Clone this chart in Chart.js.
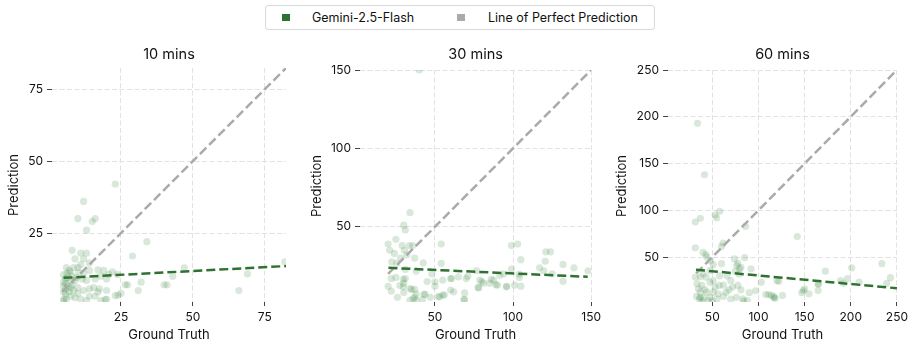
<!DOCTYPE html>
<html>
<head>
<meta charset="utf-8">
<script src="https://cdn.jsdelivr.net/npm/chart.js@4.4.1/dist/chart.umd.min.js"></script>
<style>
  body { margin: 0; background: #fff; width: 912px; height: 343px; position: relative; overflow: hidden; font-family: Inter, sans-serif; }
  canvas { position: absolute; top: 0; }
  #legend { position: absolute; left: 265px; top: 5px; width: 390px; height: 25px; box-sizing: border-box;
            border: 1px solid #d9d9d9; border-radius: 3px; font-size: 12.5px; color: #111; }
  #legend .sw { position: absolute; top: 7.5px; width: 7.5px; height: 7.5px; }
  #legend .lb { position: absolute; top: 0; line-height: 23px; white-space: nowrap; }
</style>
</head>
<body>
<div id="legend">
  <span class="sw" style="left:16px; background:#2e722f"></span>
  <span class="lb" style="left:46px">Gemini-2.5-Flash</span>
  <span class="sw" style="left:191px; background:#aaaaaa"></span>
  <span class="lb" style="left:222px">Line of Perfect Prediction</span>
</div>
<canvas id="c10" width="300" height="343" style="left:0px"></canvas>
<canvas id="c30" width="305" height="343" style="left:300px"></canvas>
<canvas id="c60" width="307" height="343" style="left:605px"></canvas>
<script>
// values
const titles = ['10 mins', '30 mins', '60 mins'];

const truth10 = [23,12,10,16,15,13,34,29,8,11,13,9,12,14,6,8.5,10,7,11,7.4,10.3,14,17,19,20.7,23.8,22,26.5,27.3,32,31,40,41,47,43,69,66,82,23,24,20,17,5.7,5.7,5.7,5.7,5.2,5,5,5,5,5,6.5,6.5,7.5,7.5,7.5,8,8,8.5,9,9,9.5,10,10,11,11.5,12,12,13,13,14,14,15.5,16,17.5,18,18,19.5,20,20,25,6,6.2,7,16];
const pred10  = [42,36,30,30,29,26,22,17,19,18,18,16,16,14.6,13,13,13,12,14,11.4,11.4,12,12.2,12,10.6,10.6,11.5,7,7,7.9,5,7,7,12.9,10,10.8,5,15,3.2,3.4,2,4.5,9.1,7.4,5.6,3.9,2.1,1.5,4.5,6.5,8,10.5,6.5,9.5,8.5,6,3,10,7,5,8.5,2.5,9.5,6,4,2,9,5,11,8.5,1.5,5.6,3,6,9,5.6,10,1.5,1.8,9,5,4,2,11,4.5,3];

const truth30 = [40,34,30,31,25,20,54,29,33.6,35.7,21,24,30.4,37,42.5,22.3,25.5,32,28,31,38,22,25,31,55,60,65,70,76.6,80,20,22,27.5,30,35,37,38,43,34,38,42,53,55,56,60,62,69,69,78,47,99,103,105,121,124,120.6,117,119.7,132,139,148,125,132,99,104,104,101,105,96,89,85,81,91.5,94,87.6,54,60.6,77.6,68.5,52,45,50,48,26,30,50,71,78.7,86,90,95.7,29.7,34,43.6,29.7,36,37];
const pred30  = [150,59,51,48,42,39,39,38,38,38,35,33,35,30,27,27.6,26.6,32,30,22.8,21.7,17,17.7,17,16,17,18,17,22,15,12,9,12.5,14,10,10,7,6.8,3,3,3.5,5.3,6.4,6.4,9.6,8.5,7.8,3.6,11,5,38,39,29,34,34,28,23.8,21.9,26,23.8,21.9,20,15.3,23,19.8,17.7,12.8,12.1,12,13,14,14,19,20,16,26.6,17,11.3,3.6,5.5,15,12,20,5,8,14.9,18.5,16,16.4,12.8,11.7,11.7,10.6,7,16.4,4,5];

const truth60 = [34,41.5,31.6,37,53,54.7,58,31.6,61.7,60,86,142,40,43,44,48,51,74,77.7,81,85,92,60,76.6,79.5,47.5,40,43.3,31.6,37,33.4,38.7,47.5,51,57.5,37,44,51,56.4,37,40.4,47.5,45.7,65,72,77.7,81,76,83,88,75,79,108,116.7,120,103,111,117,126,114,118,122,148.6,154.7,150,147,164.6,164.6,165,172.5,201,189,196.5,192,209,233.7,243,239,35,42,55,62,68,70,66,58,90,97,33,36,39,50,53,62,70,84];
const pred60  = [193,138,87.5,91.5,95,92,99,60,65,61.5,83,72,55,52.7,50,46,42,48,43.6,39,49.5,37.5,43,41,37.5,35.8,32.2,28.6,28.6,29,21.5,19.7,23,25,19.7,12.5,12.5,12.5,10.8,7,6.5,7,3.6,12.5,18,19.7,15,7,5.5,3.6,35,32,10,8,25,23,10,6.5,9,9,6,24,14.3,10.8,16,12,21.5,14.3,21,35,38.5,25,27,22,23.3,43,28,22,16,15,5,8,15,25,30,30,12,14,8,5,3,3,18,20,5,3];

// axis limits and ticks
const limits10 = [1, 82.4], ticks10 = [25, 50, 75];
const limits30 = [2, 150],  ticks30 = [50, 100, 150];
const limits60 = [2, 250],  ticks60 = [50, 100, 150, 200, 250];

// perfect-prediction segment (from .. to) and fitted trend (x pair, y pair)
const perfect10 = [4.5, 82.4],  fitX10 = [5, 82.4],   fitY10 = [9.4, 13.5];
const perfect30 = [20, 150],    fitX30 = [20.2, 147.8], fitY30 = [23.8, 18.1];
const perfect60 = [32.5, 250],  fitX60 = [32.3, 250],   fitY60 = [36.5, 16.7];

const green = '#2e722f';
const font = 'Inter';

function drawPanel(id, title, truth, pred, lim, ticks, perfect, fitX, fitY, yWidth, yTitlePad, titleGap, padRight) {
    const points = truth.map((t, i) => ({x: t, y: pred[i]}));
    const setTicks = s => { s.ticks = ticks.map(v => ({value: v})); };
    new Chart(document.getElementById(id), {
        type: 'scatter',
        data: {
            datasets: [
                { data: points, backgroundColor: 'rgba(46,125,50,0.18)', borderWidth: 0, pointRadius: 3.6, order: 3 },
                { type: 'line', data: perfect.map(v => ({x: v, y: v})), borderColor: '#aaaaaa', borderWidth: 2.5,
                  borderDash: [9, 4], pointRadius: 0, fill: false, order: 2 },
                { type: 'line', data: fitX.map((v, i) => ({x: v, y: fitY[i]})), borderColor: green, borderWidth: 2.5,
                  borderDash: [9, 4], pointRadius: 0, fill: false, order: 1 }
            ]
        },
        options: {
            responsive: false,
            animation: false,
            layout: { padding: { left: 0, right: padRight, top: 0, bottom: 0 } },
            plugins: {
                legend: { display: false },
                tooltip: { enabled: false },
                title: { display: true, text: title, fullSize: false, color: '#111',
                         font: { family: font, size: 14.5, weight: 'normal' },
                         padding: { top: 46.3, bottom: titleGap } }
            },
            scales: {
                x: {
                    type: 'linear', min: lim[0], max: lim[1],
                    afterBuildTicks: setTicks,
                    afterFit: s => { s.height = 41; },
                    grid: { color: '#e2e2e2', lineWidth: 1, tickLength: 4, tickColor: '#444', tickWidth: 1, tickBorderDash: [] },
                    border: { display: false, dash: [5, 2.5] },
                    ticks: { color: '#111', font: { family: font, size: 12 }, padding: 4, maxRotation: 0 },
                    title: { display: true, text: 'Ground Truth', color: '#111', font: { family: font, size: 13 },
                             padding: { top: 0, bottom: 0 } }
                },
                y: {
                    type: 'linear', min: lim[0], max: lim[1],
                    afterBuildTicks: setTicks,
                    afterFit: s => { s.width = yWidth; },
                    grid: { color: '#e2e2e2', lineWidth: 1, tickLength: 5, tickColor: '#444', tickWidth: 1, tickBorderDash: [] },
                    border: { display: false, dash: [5, 2.5] },
                    ticks: { color: '#111', font: { family: font, size: 12 }, padding: 4 },
                    title: { display: true, text: 'Prediction', color: '#111', font: { family: font, size: 13 },
                             padding: { top: yTitlePad, bottom: 0 } }
                }
            }
        }
    });
}

drawPanel('c10', titles[0], truth10, pred10, limits10, ticks10, perfect10, fitX10, fitY10, 52, 6.2, 4.3, 14);
drawPanel('c30', titles[1], truth30, pred30, limits30, ticks30, perfect30, fitX30, fitY30, 60, 8.9, 6.3, 13.3);
drawPanel('c60', titles[2], truth60, pred60, limits60, ticks60, perfect60, fitX60, fitY60, 63, 8.9, 6.3, 12);
</script>
</body>
</html>
